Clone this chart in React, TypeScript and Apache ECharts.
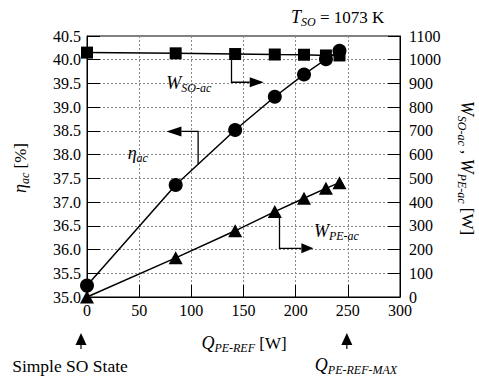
import React, { useEffect, useRef } from 'react';
import * as echarts from 'echarts';

// ---- data ----
const qPeRef = [0, 85, 142, 180, 208, 229, 242];
const etaAc = [35.24, 37.36, 38.52, 39.22, 39.69, 40.01, 40.19];
const wSoAc = [1030, 1027, 1024, 1022, 1021, 1018, 1018];
const wPeAc = [0, 165, 279, 360, 416, 458, 482];

// axis ranges
const xRange = [0, 300, 50];
const leftRange = [35, 40.5, 0.5];
const rightRange = [0, 1100, 100];

const FONT = "'Liberation Serif', 'Times New Roman', serif";

const rich = {
  m: { fontFamily: FONT, fontSize: 18, fontStyle: 'italic', lineHeight: 22, fill: '#000', color: '#000' },
  s: { fontFamily: FONT, fontSize: 12, fontStyle: 'italic', lineHeight: 12, verticalAlign: 'bottom', fill: '#000', color: '#000' },
  r: { fontFamily: FONT, fontSize: 17, lineHeight: 22, fill: '#000', color: '#000' },
};

export default function App() {
  const ref = useRef<HTMLDivElement>(null);
  useEffect(() => {
    if (!ref.current) return;
    const chart = echarts.init(ref.current, null, { renderer: 'svg' });
    const axisText = { fontFamily: FONT, fontSize: 16, color: '#000' };
    const black = { color: '#000', width: 1 };
    const option: any = {
      animation: false,
      backgroundColor: '#fff',
      textStyle: { fontFamily: FONT },
      grid: { left: 87, right: 79, top: 36, bottom: 81, show: true, borderColor: '#000', borderWidth: 1, containLabel: false },
      xAxis: {
        type: 'value', min: xRange[0], max: xRange[1], interval: xRange[2],
        axisLine: { show: true, lineStyle: black },
        axisTick: { show: true, inside: true, length: 12, lineStyle: black },
        axisLabel: { ...axisText, margin: 5, formatter: (v: number) => String(v) },
        splitLine: { show: true, lineStyle: { color: '#888', type: [2, 2], width: 1 } },
      },
      yAxis: [
        {
          type: 'value', position: 'left', min: leftRange[0], max: leftRange[1], interval: leftRange[2],
          axisLine: { show: true, lineStyle: black },
          axisTick: { show: true, inside: true, length: 13, lineStyle: black },
          axisLabel: { ...axisText, margin: 6, formatter: (v: number) => v.toFixed(1) },
          splitLine: { show: true, lineStyle: { color: '#888', type: [2, 2], width: 1 } },
        },
        {
          type: 'value', position: 'right', min: rightRange[0], max: rightRange[1], interval: rightRange[2],
          axisLine: { show: true, lineStyle: black },
          axisTick: { show: true, inside: true, length: 12, lineStyle: black },
          axisLabel: { ...axisText, margin: 9, formatter: (v: number) => String(v) },
          splitLine: { show: false },
        },
      ],
      series: [
        {
          type: 'line', yAxisIndex: 1, data: qPeRef.map((x, i) => [x, wSoAc[i]]),
          symbol: 'rect', symbolSize: 12, lineStyle: { color: '#000', width: 1.5 }, itemStyle: { color: '#000' }, z: 2,
        },
        {
          type: 'line', yAxisIndex: 1, data: qPeRef.map((x, i) => [x, wPeAc[i]]),
          symbol: 'triangle', symbolSize: [14, 13], lineStyle: { color: '#000', width: 1.5 }, itemStyle: { color: '#000' }, z: 3,
        },
        {
          type: 'line', yAxisIndex: 0, data: qPeRef.map((x, i) => [x, etaAc[i]]),
          symbol: 'circle', symbolSize: 14, lineStyle: { color: '#000', width: 1.5 }, itemStyle: { color: '#000' }, z: 4,
        },
      ],
    };
    chart.setOption(option);

    const px = (x: number) => chart.convertToPixel({ xAxisIndex: 0 }, x) as number;
    const pyL = (y: number) => chart.convertToPixel({ yAxisIndex: 0 }, y) as number;
    const pyR = (y: number) => chart.convertToPixel({ yAxisIndex: 1 }, y) as number;
    const lineStyle = { stroke: '#000', lineWidth: 1.3, fill: null };

    const arrowRight = (xb: number, yb: number, len: number, half: number) => ({
      type: 'polygon', shape: { points: [[xb, yb - half], [xb + len, yb], [xb, yb + half]] }, style: { fill: '#000' },
    });
    const arrowLeft = (xb: number, yb: number, len: number, half: number) => ({
      type: 'polygon', shape: { points: [[xb, yb - half], [xb - len, yb], [xb, yb + half]] }, style: { fill: '#000' },
    });

    // eta arrow
    const eX = px(106.5), eY0 = pyL(37.8), eY1 = pyL(38.49), eX1 = px(90.5);
    // W_SO arrow
    const sX = px(138.5), sY0 = pyR(1022), sY1 = pyR(905), sX1 = px(156);
    // W_PE arrow
    const pX = px(184.5), pY0 = pyR(350), pY1 = pyR(205), pX1 = px(205.5);

    const bottomArrow = (cx: number) => ([
      { type: 'polygon', shape: { points: [[cx, 333], [cx + 5.5, 345], [cx - 5.5, 345]] }, style: { fill: '#000' } },
      { type: 'line', shape: { x1: cx, y1: 344, x2: cx, y2: 349 }, style: { stroke: '#000', lineWidth: 1.2 } },
    ]);

    const graphic: any[] = [
      { type: 'polyline', shape: { points: [[eX, eY0], [eX, eY1], [eX1, eY1]] }, style: lineStyle },
      arrowLeft(eX1, eY1, 15, 5),
      { type: 'polyline', shape: { points: [[sX, sY0], [sX, sY1], [sX1, sY1]] }, style: lineStyle },
      arrowRight(sX1, sY1, 14, 5),
      { type: 'polyline', shape: { points: [[pX, pY0], [pX, pY1], [pX1, pY1]] }, style: lineStyle },
      arrowRight(pX1, pY1, 12, 5),
      { type: 'text', x: px(39), y: pyL(38.03), style: { text: '{m|η}{s|ac}', rich, textAlign: 'left', textVerticalAlign: 'middle' } },
      { type: 'text', x: px(76), y: pyR(900), style: { text: '{m|W}{s|SO-ac}', rich, textAlign: 'left', textVerticalAlign: 'middle' } },
      { type: 'text', x: px(217.5), y: pyR(277), style: { text: '{m|W}{s|PE-ac}', rich, textAlign: 'left', textVerticalAlign: 'middle' } },
      { type: 'text', x: 291, y: 17, style: { text: '{m|T}{s|SO}{r| = 1073 K}', rich, textAlign: 'left', textVerticalAlign: 'middle' } },
      { type: 'text', x: 244, y: 343, style: { text: '{m|Q}{s|PE-REF}{r| [W]}', rich, textAlign: 'center', textVerticalAlign: 'middle' } },
      { type: 'text', x: 20, y: 168, rotation: Math.PI / 2, style: { text: '{m|η}{s|ac}{r| [%]}', rich, textAlign: 'center', textVerticalAlign: 'middle' } },
      { type: 'text', x: 467, y: 168, rotation: -Math.PI / 2, style: { text: '{m|W}{s|SO-ac}{r| , }{m|W}{s|PE-ac}{r| [W]}', rich, textAlign: 'center', textVerticalAlign: 'middle' } },
      { type: 'text', x: 70, y: 366, style: { text: 'Simple SO State', fontFamily: FONT, fontSize: 17.5, fill: '#000', textAlign: 'center', textVerticalAlign: 'middle' } },
      { type: 'text', x: 356, y: 365, style: { text: '{m|Q}{s|PE-REF-MAX}', rich, textAlign: 'center', textVerticalAlign: 'middle' } },
      ...bottomArrow(px(0) - 6),
      ...bottomArrow(px(250) - 1),
    ];
    chart.setOption({ graphic });

    return () => chart.dispose();
  }, []);
  return <div ref={ref} style={{ position: 'absolute', left: 0, top: 0, width: 479, height: 378 }} />;
}
